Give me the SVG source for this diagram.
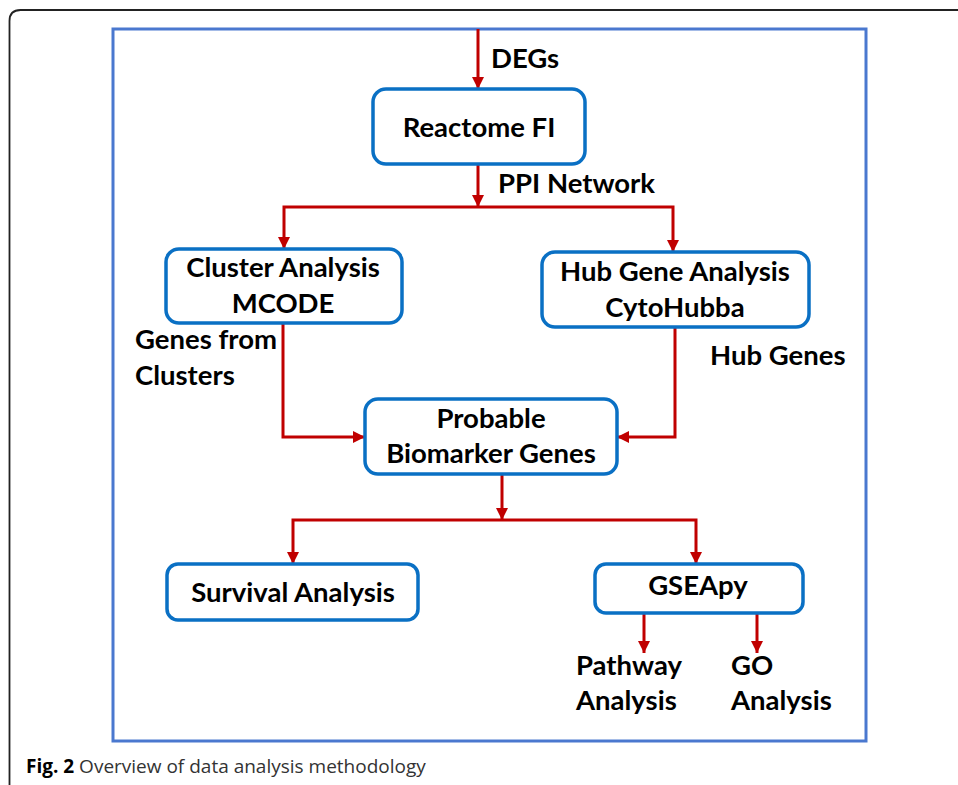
<svg xmlns="http://www.w3.org/2000/svg" width="958" height="785" viewBox="0 0 958 785">
  <style>
    .frame { fill: none; stroke: #222; stroke-width: 1.8; }
    .panel { fill: #fff; stroke: #4a78cf; stroke-width: 3; }
    .box { fill: #fff; stroke: #0a70c4; stroke-width: 3.5; }
    .lbl { font-family: Lato, "Liberation Sans", sans-serif; font-weight: bold; font-size: 27.5px; fill: #000; }
    .mid { text-anchor: middle; }
    .wire { fill: none; stroke: #c00000; stroke-width: 3; }
    .cap { font-family: "Open Sans", "Noto Sans", sans-serif; font-size: 19px; fill: #333; }
  </style>
  <defs>
    <marker id="head" markerUnits="userSpaceOnUse" markerWidth="14" markerHeight="14" viewBox="0 0 14 14" refX="12" refY="7" orient="auto">
      <path d="M0,1 L12,7 L0,13 Z" fill="#c00000"/>
    </marker>
  </defs>

  <!-- page frame with rounded corner -->
  <path class="frame" d="M9.5,785 V21 Q9.5,10 20.5,10 H958"/>

  <!-- diagram panel -->
  <rect class="panel" x="113" y="29" width="753" height="712"/>

  <!-- connectors -->
  <g id="connectors">
    <path class="wire" d="M478,29 V89" marker-end="url(#head)"/>
    <path class="wire" d="M478,164 V207" marker-end="url(#head)"/>
    <path class="wire" d="M478,207 H284 V249" marker-end="url(#head)"/>
    <path class="wire" d="M478,207 H673 V252" marker-end="url(#head)"/>
    <path class="wire" d="M283,323 V437 H365" marker-end="url(#head)"/>
    <path class="wire" d="M675,327 V437 H617" marker-end="url(#head)"/>
    <path class="wire" d="M502,474 V520" marker-end="url(#head)"/>
    <path class="wire" d="M502,520 H293 V564" marker-end="url(#head)"/>
    <path class="wire" d="M502,520 H696 V564" marker-end="url(#head)"/>
    <path class="wire" d="M644,613 V653" marker-end="url(#head)"/>
    <path class="wire" d="M757,613 V653" marker-end="url(#head)"/>
  </g>

  <!-- edge labels -->
  <g id="edge-labels" class="lbl">
    <text x="491" y="68">DEGs</text>
    <text x="498" y="193">PPI Network</text>
    <text x="135" y="349">Genes from</text>
    <text x="135" y="385">Clusters</text>
    <text x="710" y="365">Hub Genes</text>
  </g>

  <g id="reactome">
    <rect class="box" x="373" y="89" width="212" height="75" rx="13"/>
    <text class="lbl mid" x="479" y="137">Reactome FI</text>
  </g>

  <g id="cluster">
    <rect class="box" x="166" y="249" width="236" height="74" rx="13"/>
    <text class="lbl mid" x="283" y="277">Cluster Analysis</text>
    <text class="lbl mid" x="283" y="313">MCODE</text>
  </g>

  <g id="hub">
    <rect class="box" x="542" y="252" width="267" height="75" rx="13"/>
    <text class="lbl mid" x="675" y="281">Hub Gene Analysis</text>
    <text class="lbl mid" x="675" y="317">CytoHubba</text>
  </g>

  <g id="biomarker">
    <rect class="box" x="365" y="399" width="252" height="75" rx="13"/>
    <text class="lbl mid" x="491" y="428">Probable</text>
    <text class="lbl mid" x="491" y="463">Biomarker Genes</text>
  </g>

  <g id="survival">
    <rect class="box" x="167" y="564" width="251" height="56" rx="11"/>
    <text class="lbl mid" x="293" y="602">Survival Analysis</text>
  </g>

  <g id="gseapy">
    <rect class="box" x="595" y="564" width="208" height="49" rx="11"/>
    <text class="lbl mid" x="698" y="595">GSEApy</text>
  </g>

  <g id="pathway">
    <text class="lbl" x="576" y="675">Pathway</text>
    <text class="lbl" x="576" y="710">Analysis</text>
  </g>

  <g id="go">
    <text class="lbl" x="731" y="675">GO</text>
    <text class="lbl" x="731" y="710">Analysis</text>
  </g>

  <!-- figure caption -->
  <text class="cap" x="26" y="773"><tspan font-weight="bold" fill="#000">Fig. 2</tspan> Overview of data analysis methodology</text>
</svg>
